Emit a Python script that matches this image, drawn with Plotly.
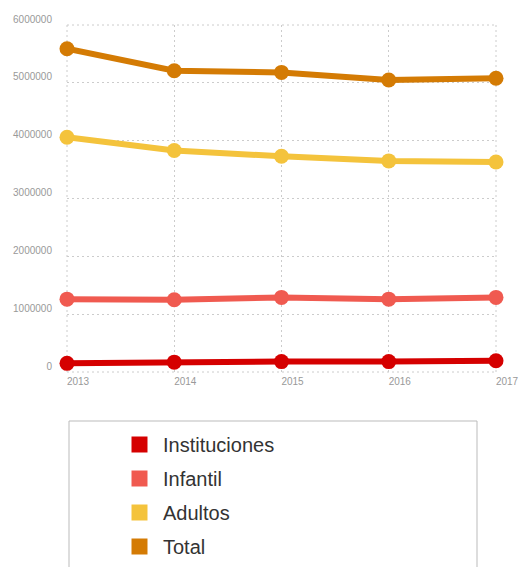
import plotly.graph_objects as go

years = [2013, 2014, 2015, 2016, 2017]
instituciones = [150000, 170000, 180000, 180000, 195000]
infantil = [1260000, 1250000, 1290000, 1260000, 1290000]
adultos = [4060000, 3830000, 3730000, 3650000, 3630000]
total = [5590000, 5210000, 5180000, 5050000, 5080000]

series_names = ["Instituciones", "Infantil", "Adultos", "Total"]
series_values = [instituciones, infantil, adultos, total]
colors = ["#d50000", "#f05a50", "#f4c33c", "#d47b04"]

y_ticks = [0, 1000000, 2000000, 3000000, 4000000, 5000000, 6000000]

W, H = 519, 567
ml, mr, mt, mb = 67, 23, 25, 195
pw, ph = W - ml - mr, H - mt - mb

def px_x(x):
    return (x - ml) / pw

def px_y(y):
    return (H - mb - y) / ph

GRID = "#cccccc"
DASH = "2px,3px"

fig = go.Figure()
for name, vals, col in zip(series_names, series_values, colors):
    fig.add_trace(go.Scatter(
        x=years, y=vals, mode="lines+markers", name=name,
        line=dict(color=col, width=6),
        marker=dict(color=col, size=15),
        cliponaxis=False, showlegend=False,
    ))
    fig.add_trace(go.Scatter(
        x=[None], y=[None], mode="markers", name=name, legendgroup=name,
        marker=dict(color=col, size=16, symbol="square"),
        showlegend=True,
    ))

# plot frame (edge gridlines)
for (x0, y0, x1, y1) in [(0, 0, 1, 0), (0, 1, 1, 1), (0, 0, 0, 1), (1, 0, 1, 1)]:
    fig.add_shape(type="line", xref="paper", yref="paper",
                  x0=x0, y0=y0, x1=x1, y1=y1, layer="below",
                  line=dict(color=GRID, width=1, dash=DASH))

# legend box
fig.add_shape(type="rect", xref="paper", yref="paper",
              x0=px_x(69), x1=px_x(477), y0=px_y(600), y1=px_y(421),
              line=dict(color="#bbbbbb", width=1), fillcolor="rgba(0,0,0,0)")

fig.update_layout(
    width=W, height=H,
    margin=dict(l=ml, r=mr, t=mt, b=mb, autoexpand=False),
    plot_bgcolor="white", paper_bgcolor="white",
    font=dict(family="Liberation Sans, Arial, sans-serif"),
    legend=dict(
        x=px_x(116), y=px_y(425), xanchor="left", yanchor="top",
        font=dict(size=20, color="#333333"),
        bgcolor="rgba(0,0,0,0)", borderwidth=0,
        itemclick=False, itemwidth=37,
        traceorder="grouped", tracegroupgap=5,
    ),
    xaxis=dict(
        range=[2013, 2017], tickvals=years, ticktext=[str(y) for y in years],
        showgrid=True, gridcolor=GRID, griddash=DASH, gridwidth=1,
        zeroline=False, showline=False, automargin=False,
        tickfont=dict(size=10, color="#999999"),
        ticklabelshift=11, ticklabelstandoff=2,
    ),
    yaxis=dict(
        range=[0, 6000000], tickvals=y_ticks, ticktext=[str(v) for v in y_ticks],
        showgrid=True, gridcolor=GRID, griddash=DASH, gridwidth=1,
        zeroline=False, showline=False, automargin=False,
        tickfont=dict(size=10, color="#999999"),
        ticklabelshift=-6, ticklabelstandoff=14,
    ),
)

fig.write_html("out.html", config={"displayModeBar": False},
               post_script="document.body.style.margin='0';document.body.style.overflow='hidden';")
